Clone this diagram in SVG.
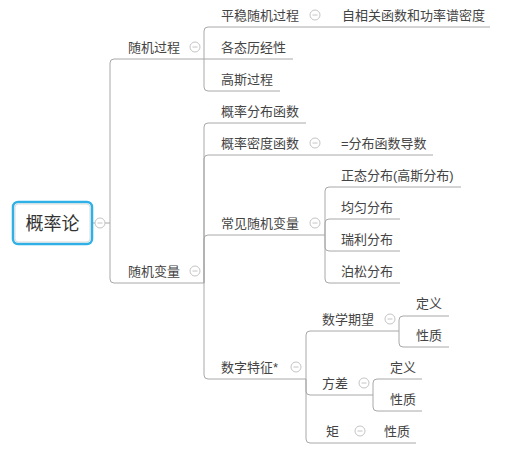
<svg xmlns="http://www.w3.org/2000/svg" width="516" height="451" viewBox="0 0 516 451">
<style>
text{font-family:"Liberation Sans","Noto Sans CJK SC",sans-serif;font-size:13px;fill:#444}
.root{font-size:18px;fill:#333}
.ln{fill:none;stroke:#a8a8a8;stroke-width:1}
.cc{fill:#fff;stroke:#c4c4c4;stroke-width:1}
.cm{stroke:#c4c4c4;stroke-width:1}
</style>
<defs>
<g id="col"><circle class="cc" r="5"/><line class="cm" x1="-2.5" y1="0" x2="2.5" y2="0"/></g>
</defs>
<rect width="516" height="451" fill="#fff"/>
<g id="connectors">
<path class="ln" d="M92,223 H95 M105,223 H110"/>
<path class="ln" d="M110,223 V63 Q110,59 114,59 H204"/>
<path class="ln" d="M110,223 V279 Q110,283 114,283 H204"/>
<path class="ln" d="M204,59 V31 Q204,27 208,27 H490"/>
<path class="ln" d="M204,59 H293"/>
<path class="ln" d="M204,59 V87 Q204,91 208,91 H280"/>
<path class="ln" d="M204,283 V127 Q204,123 208,123 H306"/>
<path class="ln" d="M204,283 V159 Q204,155 208,155 H433"/>
<path class="ln" d="M204,283 V239 Q204,235 208,235 H325"/>
<path class="ln" d="M204,283 V375 Q204,379 208,379 H306"/>
<path class="ln" d="M325,235 V191 Q325,187 329,187 H461"/>
<path class="ln" d="M325,235 V223 Q325,219 329,219 H400"/>
<path class="ln" d="M325,235 V247 Q325,251 329,251 H400"/>
<path class="ln" d="M325,235 V279 Q325,283 329,283 H400"/>
<path class="ln" d="M306,379 V335 Q306,331 310,331 H399"/>
<path class="ln" d="M306,379 V391 Q306,395 310,395 H373"/>
<path class="ln" d="M306,379 V439 Q306,443 310,443 H416"/>
<path class="ln" d="M399,331 V320 Q399,316 403,316 H449"/>
<path class="ln" d="M399,331 V343 Q399,347 403,347 H449"/>
<path class="ln" d="M373,395 V383 Q373,379 377,379 H422"/>
<path class="ln" d="M373,395 V407 Q373,411 377,411 H422"/>
</g>
<g id="root">
<rect x="13" y="202" width="79" height="42" rx="5" fill="#fff" stroke="#2fb0e6" stroke-width="2.5"/>
<rect x="15" y="204" width="75" height="38" rx="3.5" fill="none" stroke="#d0d0d0" stroke-width="0.8"/>
<text class="root" x="52.5" y="229.5" text-anchor="middle">概率论</text>
<use href="#col" x="100" y="223"/>
</g>
<g id="n-suiji-guocheng"><text x="128" y="51.5">随机过程</text><use href="#col" x="195" y="47"/></g>
<g id="n-suiji-bianliang"><text x="128" y="275.5">随机变量</text><use href="#col" x="195" y="271"/></g>
<g id="n-pingwen"><text x="221" y="19.5">平稳随机过程</text><use href="#col" x="315" y="15"/></g>
<g id="n-zixiangguan"><text x="342" y="19.5">自相关函数和功率谱密度</text></g>
<g id="n-getai"><text x="221" y="51.5">各态历经性</text></g>
<g id="n-gaosi"><text x="221" y="83.5">高斯过程</text></g>
<g id="n-fenbu"><text x="221" y="115.5">概率分布函数</text></g>
<g id="n-midu"><text x="221" y="147.5">概率密度函数</text><use href="#col" x="315" y="143"/></g>
<g id="n-daoshu"><text x="341" y="147.5">=分布函数导数</text></g>
<g id="n-changjian"><text x="221" y="227.5">常见随机变量</text><use href="#col" x="315" y="223"/></g>
<g id="n-zhengtai"><text x="341" y="179.5">正态分布(高斯分布)</text></g>
<g id="n-junyun"><text x="341" y="211.5">均匀分布</text></g>
<g id="n-ruili"><text x="341" y="243.5">瑞利分布</text></g>
<g id="n-bosong"><text x="341" y="275.5">泊松分布</text></g>
<g id="n-shuzi"><text x="221" y="371.5">数字特征*</text><use href="#col" x="296" y="367"/></g>
<g id="n-qiwang"><text x="322" y="323.5">数学期望</text><use href="#col" x="390" y="319"/></g>
<g id="n-qw-dingyi"><text x="416" y="307.5">定义</text></g>
<g id="n-qw-xingzhi"><text x="416" y="339.5">性质</text></g>
<g id="n-fangcha"><text x="322" y="387.5">方差</text><use href="#col" x="364" y="383"/></g>
<g id="n-fc-dingyi"><text x="390" y="371.5">定义</text></g>
<g id="n-fc-xingzhi"><text x="390" y="403.5">性质</text></g>
<g id="n-ju"><text x="326" y="435.5">矩</text><use href="#col" x="360" y="431"/></g>
<g id="n-ju-xingzhi"><text x="384" y="435.5">性质</text></g>
</svg>
